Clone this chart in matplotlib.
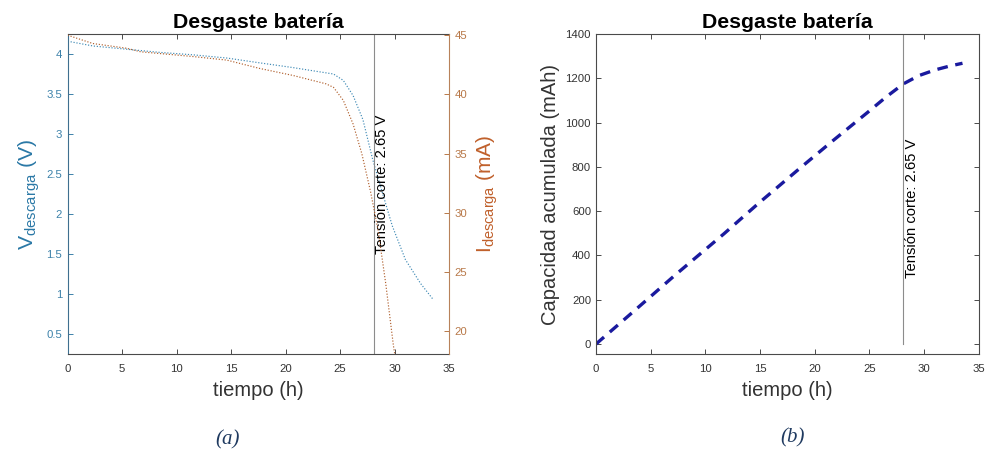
import numpy as np
import matplotlib
matplotlib.use("Agg")
import matplotlib.pyplot as plt

plt.rcParams['font.family'] = ['Liberation Sans', 'DejaVu Sans']
plt.rcParams['mathtext.fontset'] = 'custom'
plt.rcParams['mathtext.rm'] = 'Liberation Sans'

# tension de descarga (V)
t_v = [0, 2.35, 5.4, 8.5, 11.5, 14.6, 17.6, 20.7, 23.0, 24.4, 25.3, 26.2,
       27.1, 28.0, 28.9, 29.8, 31.0, 32.4, 33.5]
v_desc = [4.16, 4.10, 4.06, 4.02, 3.99, 3.95, 3.89, 3.83, 3.78, 3.75, 3.67,
          3.48, 3.18, 2.68, 2.26, 1.85, 1.43, 1.13, 0.94]

# corriente de descarga (mA)
t_i = [0, 2.3, 5.4, 6.7, 8.5, 11.5, 14.6, 17.6, 20.7, 23.7, 24.4, 25.3,
       26.2, 27.0, 27.8, 28.5, 29.2, 29.9, 30.3]
i_desc = [45.0, 44.3, 43.9, 43.6, 43.45, 43.2, 42.9, 42.2, 41.6, 40.9, 40.6,
          39.5, 37.5, 35.0, 31.8, 28.5, 24.0, 18.8, 16.5]

# capacidad acumulada (mAh)
t_c = [0, 3.5, 7.2, 11.7, 14.8, 18.4, 21.5, 24.8, 26.5, 28.1, 29.5, 31.0,
       32.3, 33.5]
cap = [0, 150, 310, 498, 633, 784, 912, 1045, 1115, 1175, 1212, 1238,
       1255, 1268]

t_corte = 28.1
x_ticks = [0, 5, 10, 15, 20, 25, 30, 35]
v_ticks = [0.5, 1, 1.5, 2, 2.5, 3, 3.5, 4]
i_ticks = [20, 25, 30, 35, 40, 45]
c_ticks = [0, 200, 400, 600, 800, 1000, 1200, 1400]

c_left = '#2a78a6'
c_left_tk = '#3d82aa'
c_right = '#c0602b'
c_right_tk = '#b87848'
c_axis = '#4a4a4a'
c_txt = '#333333'
tick_fs = 8.2
lab_fs = 14.5

fig = plt.figure(figsize=(9.87, 4.5), dpi=100)

# ---------- (a) ----------
ax1 = fig.add_axes([0.0686, 0.2133, 0.3863, 0.7111])
ax2 = ax1.twinx()

ax1.plot(t_v, v_desc, color='#3f8ab5', lw=0.85, ls=(0, (1, 1.5)))
ax2.plot(t_i, i_desc, color='#b0602e', lw=0.85, ls=(0, (1, 1.5)))
ax1.axvline(t_corte, color='#8c8c8c', lw=0.8)
ax1.text(t_corte + 0.15, 1.5, 'Tensión corte: 2.65 V', rotation=90,
         ha='left', va='bottom', fontsize=10.6, color='black')

ax1.set_xlim(0, 35)
ax1.set_ylim(0.25, 4.25)
ax2.set_ylim(18.1, 45.1)
ax1.set_xticks(x_ticks)
ax1.set_yticks(v_ticks)
ax1.set_yticklabels([f'{v:g}' for v in v_ticks])
ax2.set_yticks(i_ticks)

ax1.tick_params(axis='x', direction='in', top=True, length=3.5, width=0.7,
                labelsize=tick_fs, colors=c_txt, color=c_axis, pad=7)
ax1.tick_params(axis='y', direction='in', length=3.5, width=0.7,
                labelsize=tick_fs, colors=c_left_tk, pad=4)
ax2.tick_params(axis='y', direction='in', length=3.5, width=0.7,
                labelsize=tick_fs, colors=c_right_tk, pad=4)
for sp in ['top', 'bottom']:
    ax1.spines[sp].set_color(c_axis)
    ax2.spines[sp].set_visible(False)
ax1.spines['left'].set_color('#3f6f8f')
ax2.spines['left'].set_visible(False)
ax1.spines['right'].set_visible(False)
ax2.spines['right'].set_color('#b8825a')
for sp in ax1.spines.values():
    sp.set_linewidth(0.8)
ax2.spines['right'].set_linewidth(0.8)

ax1.set_xlabel('tiempo (h)', fontsize=lab_fs, color=c_txt, labelpad=5)
ax1.set_ylabel(r'V$_{\mathregular{descarga}}$ (V)', fontsize=15.3,
               color=c_left, labelpad=3)
ax2.set_ylabel(r'I$_{\mathregular{descarga}}$ (mA)', fontsize=15,
               color=c_right, labelpad=5)
ax1.set_title('Desgaste batería', fontsize=15.3, fontweight='bold', pad=4)

# ---------- (b) ----------
ax3 = fig.add_axes([0.6038, 0.2133, 0.3880, 0.7111])
ax3.plot(t_c, cap, color='#1a1a9e', lw=2.4, ls=(0, (3.2, 2.3)))
ax3.plot([t_corte, t_corte], [0, 1400], color='#8c8c8c', lw=0.8)
ax3.text(t_corte + 0.15, 300, 'Tensión corte: 2.65 V', rotation=90,
         ha='left', va='bottom', fontsize=10.6, color='black')
ax3.set_xlim(0, 35)
ax3.set_ylim(-45, 1400)
ax3.set_xticks(x_ticks)
ax3.set_yticks(c_ticks)
ax3.tick_params(direction='in', top=True, right=True, length=3.5, width=0.7,
                labelsize=tick_fs, colors=c_txt, color=c_axis)
ax3.tick_params(axis='x', pad=7)
for sp in ax3.spines.values():
    sp.set_color(c_axis)
    sp.set_linewidth(0.8)
ax3.set_xlabel('tiempo (h)', fontsize=lab_fs, color=c_txt, labelpad=5)
ax3.set_ylabel('Capacidad acumulada (mAh)', fontsize=lab_fs, color=c_txt,
               labelpad=4)
ax3.set_title('Desgaste batería', fontsize=15.3, fontweight='bold', pad=4)

# captions
fig.text(228 / 987, 1 - 440 / 450, '(a)', ha='center', va='center',
         fontsize=15, style='italic', family='Liberation Serif',
         color='#1f3a60')
fig.text(793 / 987, 1 - 438 / 450, '(b)', ha='center', va='center',
         fontsize=15, style='italic', family='Liberation Serif',
         color='#1f3a60')

fig.savefig('out.png', dpi=100)
